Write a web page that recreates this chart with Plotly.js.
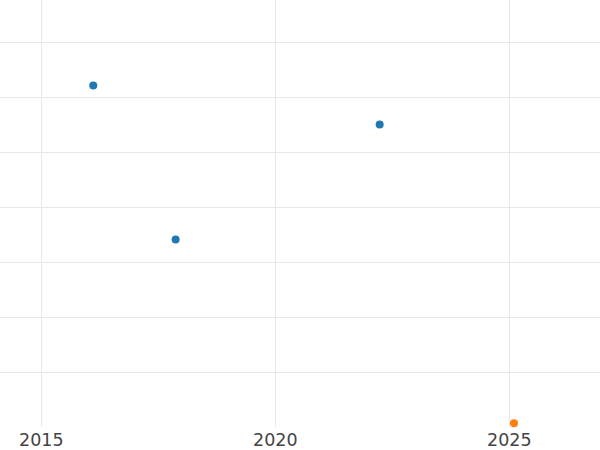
<!DOCTYPE html>
<html>
<head>
<meta charset="utf-8">
<script src="https://cdn.plot.ly/plotly-3.0.1.min.js"></script>
<style>html,body{margin:0;padding:0;background:#fff;}#chart{width:600px;height:450px;}</style>
</head>
<body>
<div id="chart"></div>
<script>
const blueX = [2016.11, 2017.87, 2022.23];
const blueY = [62.1, 34.1, 55.0];
const orangeX = [2025.10];
const orangeY = [0.67];
const yGridVals = [10, 20, 30, 40, 50, 60, 70];
const xTickVals = [2015, 2020, 2025];
const xTickText = ["2015", "2020", "2025"];

const traces = [
  {x: blueX, y: blueY, mode: "markers", type: "scatter", marker: {color: "#1f77b4", size: 8}, showlegend: false},
  {x: orangeX, y: orangeY, mode: "markers", type: "scatter", marker: {color: "#ff7f0e", size: 8}, showlegend: false, cliponaxis: false}
];

const layout = {
  width: 600, height: 450,
  margin: {l: 0, r: 0, t: 0, b: 23, pad: 0},
  paper_bgcolor: "#ffffff", plot_bgcolor: "#ffffff",
  showlegend: false,
  font: {family: "DejaVu Sans", color: "#444444"},
  xaxis: {
    range: [2014.1175, 2026.938],
    tickvals: xTickVals, ticktext: xTickText,
    showgrid: true, gridcolor: "#e8e8e8", gridwidth: 1,
    zeroline: false, showline: false, ticks: "",
    tickfont: {size: 17.5, color: "#444444", family: "DejaVu Sans"}
  },
  yaxis: {
    range: [0, 77.636],
    tickvals: yGridVals,
    showticklabels: false,
    showgrid: true, gridcolor: "#e8e8e8", gridwidth: 1,
    zeroline: false, showline: false, ticks: ""
  }
};

Plotly.newPlot("chart", traces, layout, {displayModeBar: false, staticPlot: true});
</script>
</body>
</html>
